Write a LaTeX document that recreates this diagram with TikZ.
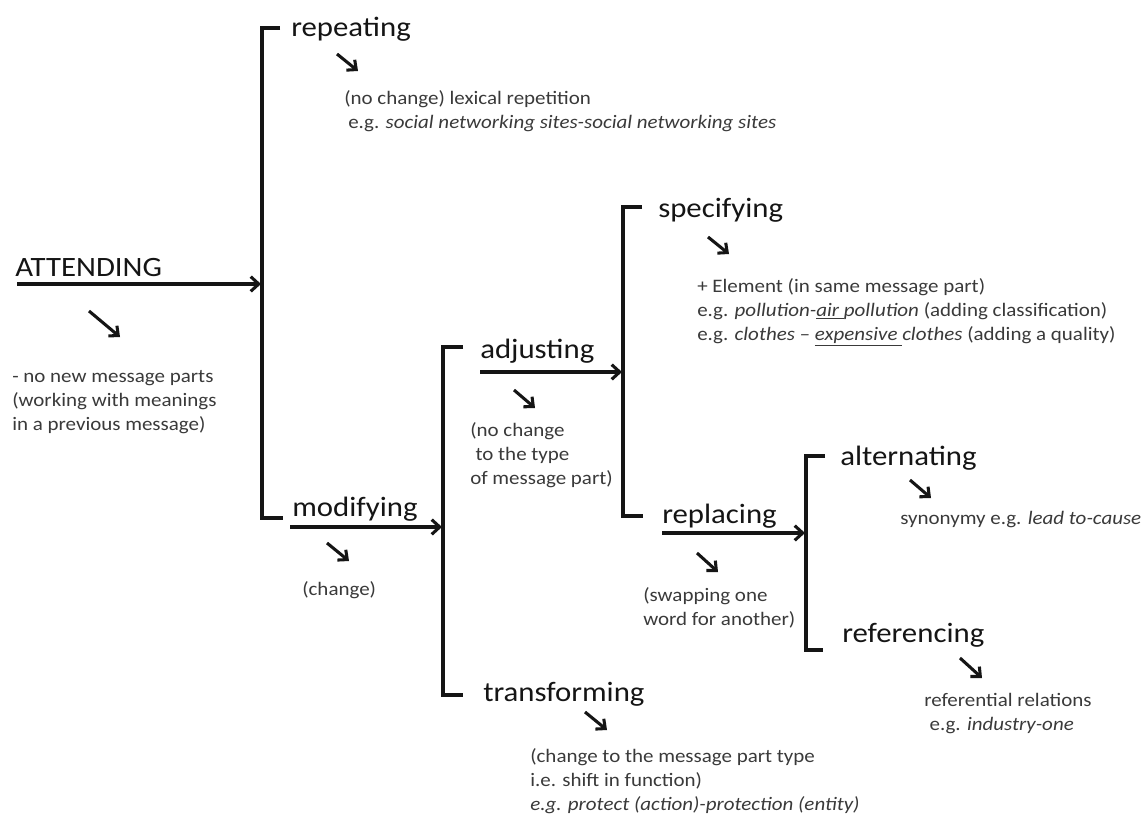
\documentclass[tikz,border=0pt]{standalone}
\usepackage{fontspec}
\setmainfont{Carlito}[FakeStretch=1.1]
\usetikzlibrary{arrows.meta}

\definecolor{ink}{HTML}{151515}
\definecolor{note}{HTML}{3A3A3A}

\tikzset{
  heading/.style={anchor=base west, inner sep=0pt, text=ink,
    font=\fontsize{21}{25}\selectfont},
  % multi-line notes are placed by the baseline of their last line
  notetext/.style={anchor=base west, inner sep=0pt, text=note, align=left,
    font=\fontsize{14.3}{18}\selectfont},
  bracketline/.style={line width=2.3pt, draw=ink, line join=miter},
  flow/.style={line width=2.3pt, draw=ink,
    -{Straight Barb[length=6pt,width=11pt]}},
  hint/.style={line width=2.3pt, draw=ink,
    -{Straight Barb[length=5.5pt,width=10pt]}},
}

\begin{document}
\begin{tikzpicture}[x=0.75pt,y=-0.75pt]
  \useasboundingbox[fill=white] (0,0) rectangle (1143,817);

  % ---- category headings ----
  \node[heading] (att)  at (15,276)  {ATTENDING};
  \node[heading] (rep)  at (291,37)  {repeating};
  \node[heading] (mod)  at (292,516) {modifying};
  \node[heading] (adj)  at (480,358) {adjusting};
  \node[heading] (tra)  at (483,701) {transforming};
  \node[heading] (spe)  at (658,217) {specifying};
  \node[heading] (rpl)  at (662,523) {replacing};
  \node[heading] (alt)  at (840,465) {alternating};
  \node[heading] (ref)  at (842,642) {referencing};

  % ---- explanatory notes ----
  \node[notetext] (attN) at (12,430) {- no new message parts\\(working with meanings\\in a previous message)};
  \node[notetext] (repN) at (344,128) {(no change) lexical repetition\\\hspace*{3pt}e.g. \textit{social networking sites-social networking sites}};
  \node[notetext] (modN) at (302,595) {(change)};
  \node[notetext] (adjN) at (470,484) {(no change\\\hspace*{4pt}to the type\\of message part)};
  \node[notetext] (speN) at (697,340) {+ Element (in same message part)\\e.g. \textit{pollution-\underline{air\ }pollution} (adding classification)\\e.g. \textit{clothes -- \underline{expensive\ }clothes} (adding a quality)};
  \node[notetext] (rplN) at (643,625) {(swapping one\\word for another)};
  \node[notetext] (altN) at (900,524) {synonymy e.g. \textit{lead to-cause}};
  \node[notetext] (refN) at (924,730) {referential relations\\\hspace*{4pt}e.g. \textit{industry-one}};
  \node[notetext] (traN) at (530,810) {(change to the message part type\\i.e. shift in function)\\\textit{e.g. protect (action)-protection (entity)}};

  % ---- bracket corners ----
  \coordinate (b1tt) at (280,28);  \coordinate (b1t) at (262,28);
  \coordinate (b1b)  at (262,518); \coordinate (b1bt) at (283,518);
  \coordinate (b2tt) at (463,347); \coordinate (b2t) at (443,347);
  \coordinate (b2b)  at (443,695); \coordinate (b2bt) at (463,695);
  \coordinate (b3tt) at (642,207); \coordinate (b3t) at (623,207);
  \coordinate (b3b)  at (623,516); \coordinate (b3bt) at (643,516);
  \coordinate (b4tt) at (825,456); \coordinate (b4t) at (806,456);
  \coordinate (b4b)  at (806,650); \coordinate (b4bt) at (823,650);

  \draw[bracketline] (b1tt) -- (b1t) -- (b1b) -- (b1bt);
  \draw[bracketline] (b2tt) -- (b2t) -- (b2b) -- (b2bt);
  \draw[bracketline] (b3tt) -- (b3t) -- (b3b) -- (b3bt);
  \draw[bracketline] (b4tt) -- (b4t) -- (b4b) -- (b4bt);

  % ---- arrows into the brackets ----
  \coordinate (attS) at (17,284);  \coordinate (b1in) at (261,284);
  \coordinate (modS) at (290,527); \coordinate (b2in) at (442,527);
  \coordinate (adjS) at (480,372); \coordinate (b3in) at (622,372);
  \coordinate (rplS) at (662,533); \coordinate (b4in) at (805,533);

  \draw[flow] (attS) -- (b1in);
  \draw[flow] (modS) -- (b2in);
  \draw[flow] (adjS) -- (b3in);
  \draw[flow] (rplS) -- (b4in);

  % ---- small pointers from heading to note ----
  \coordinate (attA) at (89,311);  \coordinate (attB) at (120,337);
  \coordinate (repA) at (337,54);  \coordinate (repB) at (358,71);
  \coordinate (modA) at (327,543); \coordinate (modB) at (349,561);
  \coordinate (adjA) at (514,390); \coordinate (adjB) at (535,408);
  \coordinate (speA) at (708,237); \coordinate (speB) at (729,254);
  \coordinate (rplA) at (697,553); \coordinate (rplB) at (718,572);
  \coordinate (altA) at (910,480); \coordinate (altB) at (931,498);
  \coordinate (refA) at (960,658); \coordinate (refB) at (982,678);
  \coordinate (traA) at (585,712); \coordinate (traB) at (607,730);

  \foreach \p in {att,rep,mod,adj,spe,rpl,alt,ref,tra}
    \draw[hint] (\p A) -- (\p B);
\end{tikzpicture}
\end{document}
